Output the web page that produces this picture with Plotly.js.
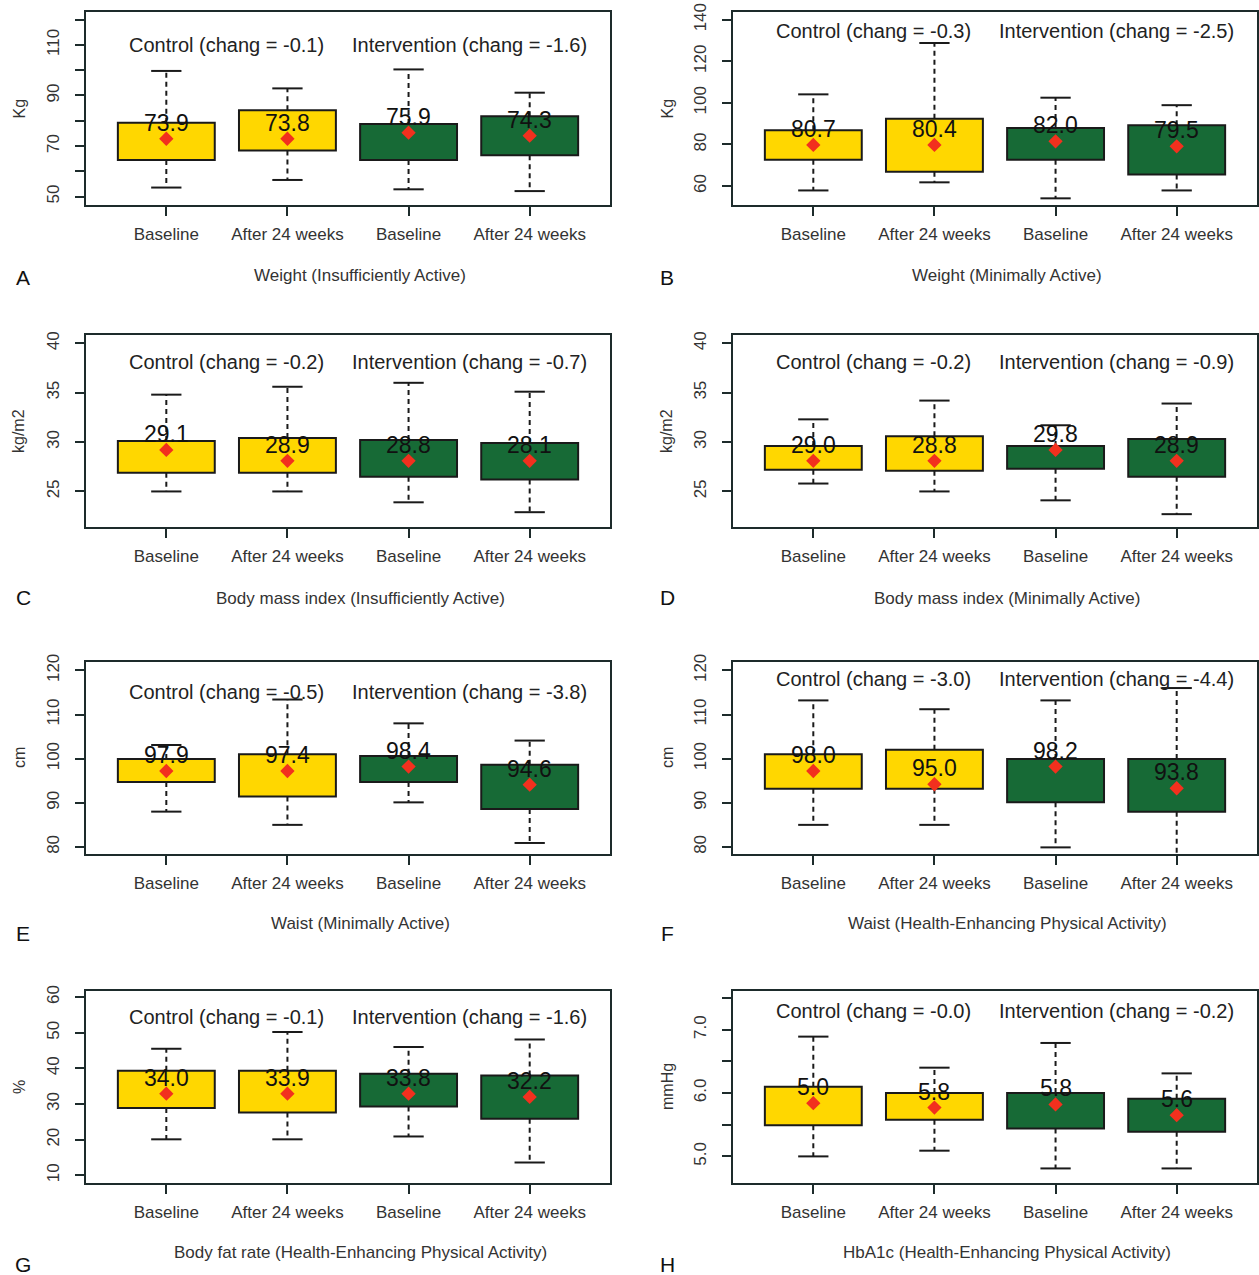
<!DOCTYPE html>
<html>
<head>
<meta charset="utf-8">
<script src="https://cdn.plot.ly/plotly-3.0.1.min.js"></script>
<style>html,body{margin:0;padding:0;background:#fff;}#chart{width:1259px;height:1275px;}</style>
</head>
<body>
<div id="chart"></div>
<script>
// ---------- data ----------
const categories = ['Baseline', 'After 24 weeks', 'Baseline', 'After 24 weeks'];
const groupOf = ['Control', 'Control', 'Intervention', 'Intervention'];
const panelLetters = ['A', 'B', 'C', 'D', 'E', 'F', 'G', 'H'];
const panelTitles = [
  'Weight (Insufficiently Active)',
  'Weight (Minimally Active)',
  'Body mass index (Insufficiently Active)',
  'Body mass index (Minimally Active)',
  'Waist (Minimally Active)',
  'Waist (Health-Enhancing Physical Activity)',
  'Body fat rate (Health-Enhancing Physical Activity)',
  'HbA1c (Health-Enhancing Physical Activity)'
];
const panelUnits = ['Kg', 'Kg', 'kg/m2', 'kg/m2', 'cm', 'cm', '%', 'mmHg'];
const controlChange = ['-0.1', '-0.3', '-0.2', '-0.2', '-0.5', '-3.0', '-0.1', '-0.0'];
const interventionChange = ['-1.6', '-2.5', '-0.7', '-0.9', '-3.8', '-4.4', '-1.6', '-0.2'];

const whiskerLow = [
  [53.6, 56.6, 52.9, 52.2],
  [57.9, 61.8, 54.1, 57.9],
  [25.0, 25.0, 23.9, 22.9],
  [25.8, 25.0, 24.1, 22.7],
  [88.0, 85.0, 90.1, 80.9],
  [85.0, 85.0, 79.9, 76.0],
  [20.1, 20.1, 20.9, 13.6],
  [5.00, 5.09, 4.81, 4.81]
];
const quartile1 = [
  [64.5, 68.2, 64.5, 66.4],
  [72.7, 66.9, 72.7, 65.6],
  [26.9, 26.9, 26.5, 26.2],
  [27.2, 27.1, 27.3, 26.5],
  [94.7, 91.4, 94.7, 88.6],
  [93.2, 93.2, 90.1, 88.0],
  [28.9, 27.6, 29.3, 25.9],
  [5.49, 5.58, 5.44, 5.39]
];
const quartile3 = [
  [79.2, 84.2, 78.7, 81.8],
  [86.9, 92.4, 87.9, 89.2],
  [30.1, 30.4, 30.2, 29.9],
  [29.6, 30.6, 29.6, 30.3],
  [99.9, 101.0, 100.6, 98.6],
  [101.0, 102.0, 99.9, 99.9],
  [39.3, 39.3, 38.5, 38.0],
  [6.10, 6.00, 6.00, 5.91]
];
const whiskerHigh = [
  [99.7, 92.8, 100.3, 91.1],
  [104.1, 128.8, 102.5, 98.9],
  [34.8, 35.6, 36.0, 35.1],
  [32.3, 34.2, 31.7, 33.9],
  [103.1, 113.4, 108.0, 104.1],
  [113.2, 111.2, 113.2, 116.0],
  [45.5, 50.2, 46.0, 48.1],
  [6.89, 6.40, 6.79, 6.31]
];
const meanMarks = [
  [72.9, 72.9, 75.3, 74.1],
  [79.8, 79.8, 81.5, 79.1],
  [29.2, 28.1, 28.1, 28.1],
  [28.1, 28.1, 29.2, 28.1],
  [97.2, 97.2, 98.2, 94.1],
  [97.2, 94.2, 98.2, 93.3],
  [32.9, 32.9, 32.9, 32.0],
  [5.84, 5.77, 5.82, 5.65]
];
const meanLabels = [
  ['73.9', '73.8', '75.9', '74.3'],
  ['80.7', '80.4', '82.0', '79.5'],
  ['29.1', '28.9', '28.8', '28.1'],
  ['29.0', '28.8', '29.8', '28.9'],
  ['97.9', '97.4', '98.4', '94.6'],
  ['98.0', '95.0', '98.2', '93.8'],
  ['34.0', '33.9', '33.8', '32.2'],
  ['5.0', '5.8', '5.8', '5.6']
];
const yTickVals = [
  [50, 60, 70, 80, 90, 100, 110, 120],
  [60, 80, 100, 120, 140],
  [25, 30, 35, 40],
  [25, 30, 35, 40],
  [80, 90, 100, 110, 120],
  [80, 90, 100, 110, 120],
  [10, 20, 30, 40, 50, 60],
  [5.0, 5.5, 6.0, 6.5, 7.0, 7.5]
];
const yTickText = [
  ['50', '', '70', '', '90', '', '110', ''],
  ['60', '80', '100', '120', '140'],
  ['25', '30', '35', '40'],
  ['25', '30', '35', '40'],
  ['80', '90', '100', '110', '120'],
  ['80', '90', '100', '110', '120'],
  ['10', '20', '30', '40', '50', '60'],
  ['5.0', '', '6.0', '', '7.0', '']
];

// ---------- layout settings ----------
const yRanges = [
  [46.7, 123.0], [50.9, 143.7], [21.4, 40.84], [21.4, 40.84],
  [78.4, 121.9], [78.4, 121.9], [7.85, 61.7], [4.58, 7.61]
];
const groupTextY = [0.83, 0.90, 0.857, 0.857, 0.844, 0.913, 0.864, 0.898];
const W = 1259, H = 1275;
const colPx = [[86, 610], [733, 1257]];
const rowPx = [[12, 205], [335, 527], [662, 854], [991, 1183]];
const titlePy = [275, 598, 923, 1252];
const letterPy = [277, 597, 933, 1264];
const letterPx = [23, 667];
const unitPx = [19, 667];
const fillColors = {Control: '#FFD700', Intervention: '#176A36'};
const frameColor = '#1d2b2b';
const xPos = [1, 2, 3, 4];
const capHalf = 0.125;
const labelShift = 16;

const traces = [];
const layout = {
  width: W, height: H,
  margin: {l: 0, r: 0, t: 0, b: 0},
  paper_bgcolor: '#ffffff', plot_bgcolor: '#ffffff',
  showlegend: false, hovermode: false,
  font: {family: 'Liberation Sans, Arial, sans-serif', color: '#2a2a2a'},
  annotations: []
};

for (let p = 0; p < 8; p++) {
  const row = Math.floor(p / 2), col = p % 2;
  const sfx = p === 0 ? '' : String(p + 1);
  const xa = 'x' + sfx, ya = 'y' + sfx;
  const xd = [colPx[col][0] / W, colPx[col][1] / W];
  const yd = [1 - rowPx[row][1] / H, 1 - rowPx[row][0] / H];

  layout['xaxis' + sfx] = {
    domain: xd, anchor: ya, range: [0.337, 4.663],
    tickvals: xPos, ticktext: categories,
    ticks: 'outside', ticklen: 9, tickwidth: 2, tickcolor: frameColor,
    ticklabelstandoff: 4,
    showline: true, linecolor: frameColor, linewidth: 2, mirror: true,
    showgrid: false, zeroline: false, fixedrange: true,
    tickfont: {size: 17, color: '#333333', family: 'Liberation Sans, Arial, sans-serif'}
  };
  layout['yaxis' + sfx] = {
    domain: yd, anchor: xa, range: yRanges[p],
    tickmode: 'array', tickvals: yTickVals[p], ticktext: yTickText[p],
    tickangle: -90,
    ticks: 'outside', ticklen: 9, tickwidth: 2, tickcolor: frameColor,
    ticklabelstandoff: 9,
    showline: true, linecolor: frameColor, linewidth: 2, mirror: true,
    showgrid: false, zeroline: false, fixedrange: true,
    tickfont: {size: 17, color: '#333333', family: 'Liberation Sans Narrow, Liberation Sans, Arial, sans-serif'}
  };

  const colors = groupOf.map(g => fillColors[g]);

  // whiskers (dashed)
  const wx = [], wy = [];
  for (let i = 0; i < 4; i++) {
    wx.push(xPos[i], xPos[i], null, xPos[i], xPos[i], null);
    wy.push(quartile3[p][i], whiskerHigh[p][i], null, quartile1[p][i], whiskerLow[p][i], null);
  }
  traces.push({type: 'scatter', mode: 'lines', x: wx, y: wy, xaxis: xa, yaxis: ya,
    line: {color: '#1a1a1a', width: 2, dash: '5px,4px'}, hoverinfo: 'skip'});

  // caps
  const cx = [], cy = [];
  for (let i = 0; i < 4; i++) {
    cx.push(xPos[i] - capHalf, xPos[i] + capHalf, null, xPos[i] - capHalf, xPos[i] + capHalf, null);
    cy.push(whiskerHigh[p][i], whiskerHigh[p][i], null, whiskerLow[p][i], whiskerLow[p][i], null);
  }
  traces.push({type: 'scatter', mode: 'lines', x: cx, y: cy, xaxis: xa, yaxis: ya,
    line: {color: '#1a1a1a', width: 2}, hoverinfo: 'skip'});

  // boxes
  traces.push({type: 'bar', x: xPos, base: quartile1[p],
    y: quartile3[p].map((v, i) => v - quartile1[p][i]),
    width: 0.8, xaxis: xa, yaxis: ya,
    marker: {color: colors, line: {color: '#1a1a1a', width: 2}}, hoverinfo: 'skip'});

  // means
  traces.push({type: 'scatter', mode: 'markers', x: xPos, y: meanMarks[p], xaxis: xa, yaxis: ya,
    marker: {symbol: 'diamond', size: 11, color: '#F2301E'}, hoverinfo: 'skip', cliponaxis: false});

  // value labels (just above the mean marker)
  for (let i = 0; i < 4; i++) {
    layout.annotations.push({
      xref: xa, yref: ya, x: xPos[i], y: meanMarks[p][i],
      text: meanLabels[p][i], showarrow: false, yshift: labelShift,
      xanchor: 'center', yanchor: 'middle',
      font: {size: 23, color: '#111111', family: 'Liberation Sans Narrow, Arial Narrow, Liberation Sans, sans-serif'}
    });
  }

  // group texts
  layout.annotations.push({
    xref: xa, yref: ya + ' domain', x: 1.5, y: groupTextY[p],
    text: 'Control (chang = ' + controlChange[p] + ')', showarrow: false,
    xanchor: 'center', yanchor: 'middle', font: {size: 20, color: '#222222'}
  });
  layout.annotations.push({
    xref: xa, yref: ya + ' domain', x: 3.5, y: groupTextY[p],
    text: 'Intervention (chang = ' + interventionChange[p] + ')', showarrow: false,
    xanchor: 'center', yanchor: 'middle', font: {size: 20, color: '#222222'}
  });

  // unit (y title)
  layout.annotations.push({
    xref: 'paper', yref: 'paper', x: unitPx[col] / W,
    y: 1 - (rowPx[row][0] + rowPx[row][1]) / 2 / H,
    text: panelUnits[p], showarrow: false, textangle: -90,
    xanchor: 'center', yanchor: 'middle', font: {size: 16, color: '#333333'}
  });

  // bottom title
  layout.annotations.push({
    xref: 'paper', yref: 'paper', x: ((colPx[col][0] + colPx[col][1]) / 2 + 12) / W,
    y: 1 - titlePy[row] / H,
    text: panelTitles[p], showarrow: false,
    xanchor: 'center', yanchor: 'middle', font: {size: 17, color: '#333333'}
  });

  // panel letter
  layout.annotations.push({
    xref: 'paper', yref: 'paper', x: letterPx[col] / W, y: 1 - letterPy[row] / H,
    text: panelLetters[p], showarrow: false,
    xanchor: 'center', yanchor: 'middle', font: {size: 21, color: '#111111'}
  });
}

Plotly.newPlot('chart', traces, layout, {staticPlot: true, displayModeBar: false});
</script>
</body>
</html>
